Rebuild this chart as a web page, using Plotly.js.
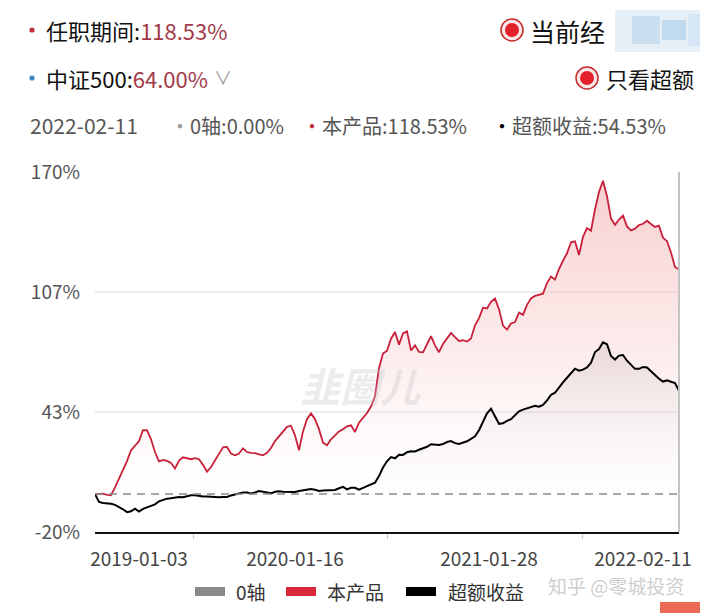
<!DOCTYPE html>
<html>
<head>
<meta charset="utf-8">
<script src="https://cdn.plot.ly/plotly-3.0.1.min.js"></script>
<style>
  html, body { margin: 0; padding: 0; background: #fff; }
  #chart { width: 720px; height: 613px; }
</style>
</head>
<body>
<div id="chart"></div>
<script>
// 本产品 cumulative return (%), roughly weekly samples
const product = [
  0, 0.2, 0.3, -0.4, -0.6, 3.6, 8.3, 13.3, 17.4, 23.1,
  25.8, 28.0, 33.7, 33.7, 28.9, 22.2, 17.3, 18.0, 17.5, 16.5,
  13.5, 17.7, 19.4, 19.0, 18.4, 19.0, 18.4, 15.5, 11.8, 14.3,
  17.6, 21.0, 24.7, 24.9, 21.4, 20.5, 21.4, 24.2, 22.2, 21.8,
  21.6, 21.0, 20.5, 21.8, 24.3, 28.0, 30.5, 32.8, 35.5, 36.1,
  31.0, 23.2, 33.1, 39.5, 42.6, 39.5, 34.3, 27.2, 25.8, 28.9,
  31.0, 33.1, 34.2, 35.8, 36.3, 32.8, 37.7, 40.0, 42.8, 46.2,
  51.6, 66.4, 74.2, 75.7, 82.0, 85.6, 78.9, 84.8, 85.9, 75.8,
  78.5, 75.0, 74.8, 79.1, 83.4, 78.5, 74.9, 79.3, 82.3, 85.1,
  82.9, 80.8, 81.2, 80.5, 82.1, 89.1, 92.9, 98.4, 98.0, 101.5,
  103.2, 97.6, 88.9, 86.8, 90.1, 90.8, 95.8, 94.6, 99.9, 103.3,
  104.6, 105.0, 105.8, 111.4, 114.8, 113.2, 118.8, 123.2, 127.1, 132.9,
  133.4, 126.2, 135.8, 140.4, 139.0, 150.2, 159.5, 165.4, 157.2, 145.4,
  142.1, 144.9, 147.0, 141.3, 139.2, 140.1, 142.0, 142.7, 144.3, 142.6,
  141.0, 141.7, 135.3, 133.5, 127.5, 119.9, 118.53
];

// 超额收益 excess return (%)
const excess = [
  0, -4.1, -4.7, -4.9, -5.1, -5.7, -6.7, -8.0, -9.5, -9.1,
  -7.7, -9.2, -7.8, -7.0, -6.3, -5.4, -3.8, -3.0, -2.4, -2.2,
  -2.0, -1.5, -1.7, -1.2, -0.6, -0.6, -1.0, -1.2, -1.3, -1.5,
  -1.7, -1.6, -1.5, -1.5, -0.7, -0.2, 0.4, 0.8, 0.8, 0.3,
  0.9, 1.6, 1.3, 0.8, 0.4, 1.2, 1.5, 1.2, 1.1, 1.1,
  1.1, 1.6, 2.0, 2.0, 2.7, 2.3, 1.7, 1.9, 2.0, 2.0,
  2.2, 3.1, 3.8, 2.5, 3.3, 3.3, 2.4, 3.3, 4.2, 5.0,
  6.0, 9.5, 14.0, 17.3, 19.5, 18.9, 20.8, 20.7, 22.1, 22.6,
  22.5, 23.4, 24.2, 25.0, 26.3, 26.0, 25.9, 26.4, 27.5, 28.0,
  26.9, 26.5, 27.1, 27.9, 29.2, 30.5, 33.7, 37.9, 42.6, 45.0,
  41.1, 37.1, 37.4, 38.7, 39.5, 41.6, 43.7, 44.6, 45.2, 46.2,
  46.6, 46.1, 47.1, 49.5, 52.4, 53.5, 56.4, 59.0, 61.4, 64.1,
  66.2, 65.1, 65.7, 66.9, 69.3, 75.0, 76.6, 80.1, 79.1, 72.9,
  71.0, 73.1, 73.4, 70.4, 68.0, 66.1, 66.1, 67.1, 66.8, 64.8,
  63.1, 60.9, 59.4, 60.0, 59.3, 58.6, 54.53
];

// 0轴
const zeroAxis = [0, 0];

const dateLabels = ['2019-01-03', '2020-01-16', '2021-01-28', '2022-02-11'];
const dateLabelPos = [11, 50, 98.5, 137];
const yTicks = [-20, 43.33, 106.67, 170];
const yTickText = ['-20%', '43%', '107%', '170%'];

const lastIdx = product.length - 1;

// pixel -> paper helpers (plot area is 95..679 x 172..532)
const PX = x => (x - 95) / 584;
const PY = y => (532 - y) / 360;

const CJK = '"Noto Sans CJK SC", "Noto Sans", sans-serif';
const VAL = '#a23a4a';

const traceProduct = {
  y: product, x0: 0, dx: 1,
  type: 'scatter', mode: 'lines',
  line: { color: '#c8203a', width: 1.8 },
  fill: 'tozeroy',
  fillgradient: {
    type: 'vertical', start: -20, stop: 170,
    colorscale: [[0, 'rgba(255,255,255,0)'], [0.5, 'rgba(248,200,200,0.35)'], [1, 'rgba(244,170,170,0.6)']]
  },
  hoverinfo: 'skip', showlegend: false
};

const traceExcess = {
  y: excess, x0: 0, dx: 1,
  type: 'scatter', mode: 'lines',
  line: { color: '#000', width: 2 },
  fill: 'tozeroy',
  fillgradient: {
    type: 'vertical', start: -20, stop: 90,
    colorscale: [[0, 'rgba(255,255,255,0)'], [1, 'rgba(150,130,130,0.22)']]
  },
  hoverinfo: 'skip', showlegend: false
};

const traceZero = {
  x: [0, lastIdx], y: zeroAxis,
  type: 'scatter', mode: 'lines',
  line: { color: '#8a8a8a', width: 1.5, dash: '8px,6px' },
  hoverinfo: 'skip', showlegend: false
};

const radio = (cx, cy) => [
  { type: 'circle', xref: 'paper', yref: 'paper', layer: 'above',
    x0: PX(cx - 11), x1: PX(cx + 11), y0: PY(cy + 11), y1: PY(cy - 11),
    line: { color: '#c62a2a', width: 1.5 }, fillcolor: '#fbe9e9' },
  { type: 'circle', xref: 'paper', yref: 'paper', layer: 'above',
    x0: PX(cx - 7), x1: PX(cx + 7), y0: PY(cy + 7), y1: PY(cy - 7),
    line: { width: 0 }, fillcolor: '#e3222b' }
];

const legendBox = (x0, color) => ({
  type: 'rect', xref: 'paper', yref: 'paper',
  x0: PX(x0), x1: PX(x0 + 30), y0: PY(596), y1: PY(587),
  line: { width: 0 }, fillcolor: color
});

const blur = (x0, x1, y0, y1, c) => ({
  type: 'rect', xref: 'paper', yref: 'paper', layer: 'above',
  x0: PX(x0), x1: PX(x1), y0: PY(y1), y1: PY(y0),
  line: { width: 0 }, fillcolor: c
});

const dot = (cx, cy, color) => ({
  type: 'circle', xref: 'paper', yref: 'paper', layer: 'above',
  x0: PX(cx - 2.6), x1: PX(cx + 2.6), y0: PY(cy + 2.6), y1: PY(cy - 2.6),
  line: { width: 0 }, fillcolor: color
});

const note = (x, y, text, size, color, anchor) => ({
  xref: 'paper', yref: 'paper', x: PX(x), y: PY(y),
  xanchor: anchor || 'left', yanchor: 'middle',
  text: text, showarrow: false,
  font: { family: CJK, size: size, color: color }
});

const layout = {
  width: 720, height: 613,
  margin: { l: 95, r: 41, t: 172, b: 81 },
  paper_bgcolor: '#fff', plot_bgcolor: '#fff',
  font: { family: CJK, color: '#444' },
  xaxis: {
    range: [0, lastIdx], fixedrange: true,
    tickmode: 'array', tickvals: dateLabelPos, ticktext: dateLabels,
    tickfont: { size: 19, color: '#444' },
    ticks: '', showgrid: false, zeroline: false,
    showline: true, linecolor: '#111', linewidth: 2,
    ticklabelstandoff: 9,
    minor: { tickmode: 'array', tickvals: [24.5, 73, 121.75], ticks: 'outside', ticklen: 5, tickcolor: '#c8c8c8', tickwidth: 1, showgrid: false }
  },
  yaxis: {
    range: [-20, 170], fixedrange: true,
    tickmode: 'array', tickvals: yTicks, ticktext: yTickText,
    tickfont: { size: 19, color: '#555' },
    ticks: '', showgrid: true, gridcolor: '#ececec', gridwidth: 1.5,
    zeroline: false, showline: false,
    ticklabelstandoff: 14
  },
  shapes: [
    { type: 'line', xref: 'paper', yref: 'paper', x0: 1, x1: 1, y0: 0, y1: 1,
      line: { color: '#c4c4c4', width: 2 } },
    legendBox(195, '#8a8a8a'),
    legendBox(286, '#d8283a'),
    legendBox(406, '#000'),
    ...radio(512, 30),
    ...radio(587, 78),
    dot(32, 30, '#c0303a'),
    dot(32, 78, '#3a86c8'),
    blur(615, 700, 10, 52, 'rgba(228,238,246,0.9)'),
    blur(632, 660, 16, 44, 'rgba(196,220,238,0.85)'),
    blur(662, 686, 20, 40, 'rgba(178,208,232,0.7)'),
    blur(688, 700, 14, 46, 'rgba(210,228,242,0.8)'),
    { type: 'rect', xref: 'paper', yref: 'paper', x0: PX(660), x1: PX(700), y0: PY(616), y1: PY(602),
      line: { width: 0 }, fillcolor: '#ec6a55' }
  ],
  annotations: [
    note(44, 30, '任职期间:<span style="color:' + VAL + '">118.53%</span>', 22, '#111'),
    note(528, 31, '当前经', 25, '#111'),
    note(44, 78, '中证500:<span style="color:' + VAL + '">64.00%</span>', 22, '#111'),
    note(212, 77, '∨', 18, '#9a9a9a'),
    note(604, 78, '只看超额', 22, '#111'),
    note(28, 125, '2022-02-11', 21, '#555'),
    note(168, 125, '<span style="color:#999">•</span>0轴:0.00%', 20, '#555'),
    note(300, 125, '<span style="color:#c0303a">•</span>本产品:118.53%', 20, '#555'),
    note(490, 125, '<span style="color:#000">•</span>超额收益:54.53%', 20, '#555'),
    note(234, 591, '0轴', 19, '#333'),
    note(325, 591, '本产品', 19, '#333'),
    note(446, 591, '超额收益', 19, '#333'),
    note(546, 585, '知乎 @零城投资', 19, 'rgba(200,200,200,0.9)'),
    note(360, 385, '<b><i>韭圈儿</i></b>', 40, 'rgba(200,200,200,0.35)', 'center')
  ]
};

Plotly.newPlot('chart', [traceProduct, traceExcess, traceZero], layout, { staticPlot: true, displayModeBar: false });
</script>
</body>
</html>
